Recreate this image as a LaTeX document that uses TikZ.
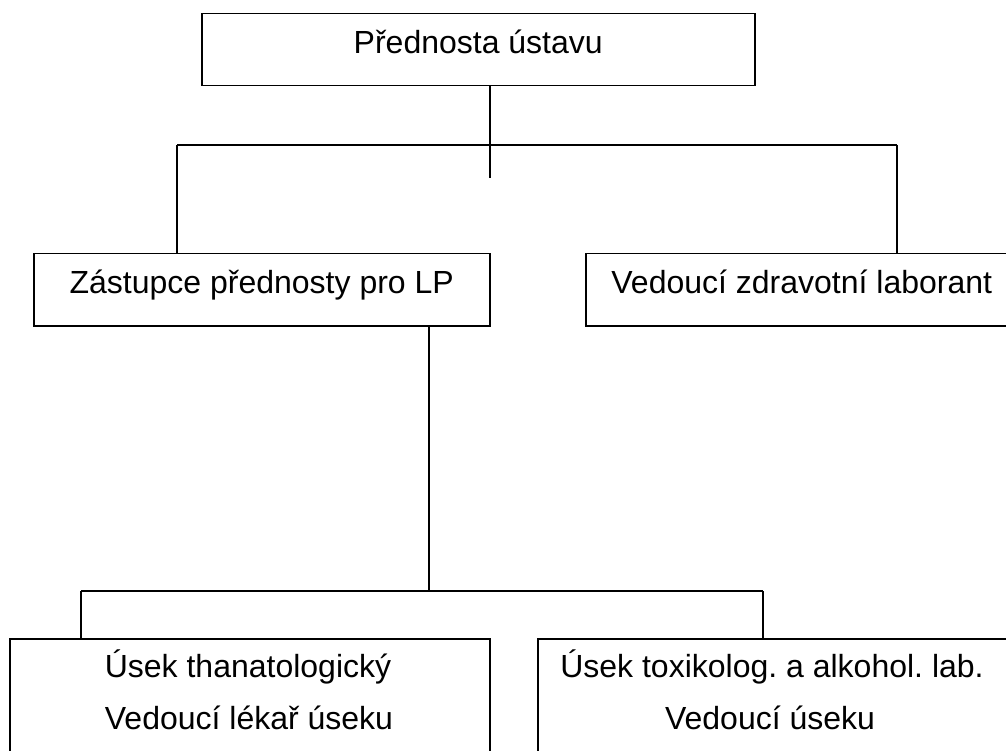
\documentclass[tikz,border=0pt]{standalone}
\usepackage{fontspec}
\setmainfont{Liberation Sans}
\frenchspacing
\begin{document}
\begin{tikzpicture}[x=1pt,y=-1pt,
  box/.style={draw=black, line width=1.5pt, inner sep=0pt, rectangle},
  onebox/.style={box, text height=40pt, text depth=32pt, font=\fontsize{32}{38}\selectfont},
  lbl/.style={anchor=base, inner sep=0pt, font=\fontsize{32}{38}\selectfont},
  conn/.style={draw=black, line width=1.5pt}]
\useasboundingbox (0,0) rectangle (1006,751);
\clip (0,0) rectangle (1006,751);
% boxes
\node[onebox, minimum width=553pt, anchor=north west] (top) at (201,13) {Přednosta ústavu};
\node[onebox, minimum width=456pt, anchor=north west] (zast) at (33,253) {Zástupce přednosty pro LP};
\node[onebox, minimum width=432pt, anchor=north west] (ved) at (585,253) {Vedoucí zdravotní laborant};
\node[box, minimum width=480pt, minimum height=130pt, anchor=north west] (than) at (9,638) {};
\node[box, minimum width=480pt, minimum height=130pt, anchor=north west] (tox) at (537,638) {};
\node[lbl] (than1) at (248,677) {Úsek thanatologický};
\node[lbl] (than2) at (249,729) {Vedoucí lékař úseku};
\node[lbl] (tox1) at (772,677) {Úsek toxikolog. a alkohol. lab.};
\node[lbl] (tox2) at (770,729) {Vedoucí úseku};
% junctions
\coordinate (t1) at (490,145);
\coordinate (t1end) at (490,178);
\coordinate (t1l) at (177,145);
\coordinate (t1r) at (897,145);
\coordinate (t2) at (429,591);
\coordinate (t2l) at (81,591);
\coordinate (t2r) at (763,591);
% connectors
\draw[conn] (top.south -| t1) -- (t1end);
\draw[conn] (t1l) -- (t1r);
\draw[conn] (t1l) -- (zast.north -| t1l);
\draw[conn] (t1r) -- (ved.north -| t1r);
\draw[conn] (zast.south -| t2) -- (t2);
\draw[conn] (t2l) -- (t2r);
\draw[conn] (t2l) -- (than.north -| t2l);
\draw[conn] (t2r) -- (tox.north -| t2r);
\end{tikzpicture}
\end{document}
